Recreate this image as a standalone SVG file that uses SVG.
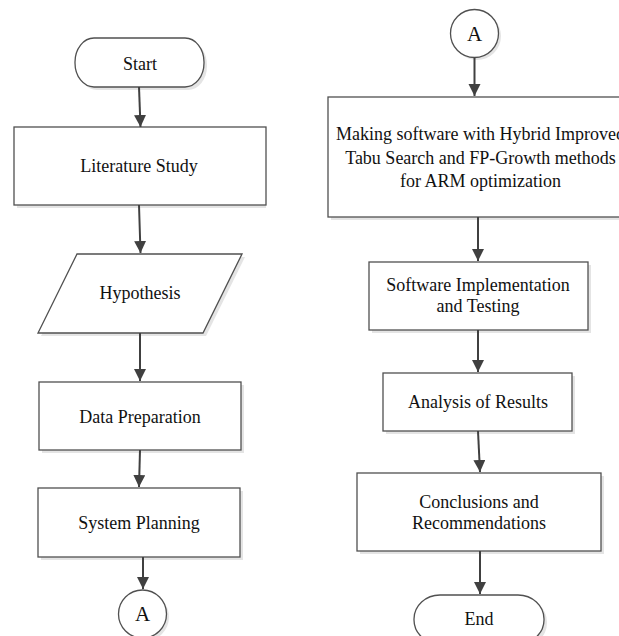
<svg xmlns="http://www.w3.org/2000/svg" width="619" height="636" viewBox="0 0 619 636">
<defs>
<marker id="ah" markerUnits="userSpaceOnUse" markerWidth="12" markerHeight="14" viewBox="0 0 12 14" refX="12" refY="6" orient="auto">
<path d="M0,0 L12,6 L0,12 Z" fill="#404040"/>
</marker>
<style>
.box{fill:#fff;stroke:#505050;stroke-width:1.3}
.sh{fill:#e4e4e4;stroke:none}
.t{font-family:"Liberation Serif","Times New Roman",serif;font-size:18px;fill:#111;text-anchor:middle}
.ta{font-family:"Liberation Serif","Times New Roman",serif;font-size:21px;fill:#111;text-anchor:middle}
.c{stroke:#404040;stroke-width:2;fill:none;marker-end:url(#ah)}
</style>
</defs>
<rect width="619" height="636" fill="#fff"/>

<g id="start">
<rect class="sh" x="78" y="41" width="129" height="49" rx="19" ry="24"/>
<rect class="box" x="75" y="38" width="129" height="49" rx="19" ry="24"/>
<text class="t" x="140" y="70">Start</text>
</g>

<g id="literature">
<rect class="sh" x="17" y="130" width="249" height="78"/>
<rect class="box" x="14" y="127" width="252" height="78"/>
<text class="t" x="139" y="172">Literature Study</text>
</g>

<g id="hypothesis">
<polygon class="sh" points="80,257 245,257 206,336 41,336"/>
<polygon class="box" points="77,254 242,254 203,333 38,333"/>
<text class="t" x="140" y="299">Hypothesis</text>
</g>

<g id="dataprep">
<rect class="sh" x="42" y="385" width="202" height="68"/>
<rect class="box" x="39" y="382" width="202" height="68"/>
<text class="t" x="140" y="423">Data Preparation</text>
</g>

<g id="sysplan">
<rect class="sh" x="41" y="491" width="202" height="69"/>
<rect class="box" x="38" y="488" width="202" height="69"/>
<text class="t" x="139" y="529">System Planning</text>
</g>

<g id="connA1">
<circle class="sh" cx="145" cy="617" r="24"/>
<circle class="box" cx="142.5" cy="614" r="24"/>
<text class="ta" x="142.5" y="621">A</text>
</g>

<g id="connA2">
<circle class="sh" cx="477" cy="36" r="24"/>
<circle class="box" cx="474.5" cy="33.5" r="24"/>
<text class="ta" x="474.5" y="41">A</text>
</g>

<g id="making">
<rect class="sh" x="331" y="100" width="305" height="120"/>
<rect class="box" x="328" y="97" width="305" height="120"/>
<text class="t" x="480.5" y="140">Making software with Hybrid Improved</text>
<text class="t" x="480.5" y="164">Tabu Search and FP-Growth methods</text>
<text class="t" x="480.5" y="187">for ARM optimization</text>
</g>

<g id="implementation">
<rect class="sh" x="372" y="265" width="219" height="68"/>
<rect class="box" x="369" y="262" width="219" height="68"/>
<text class="t" x="478" y="291">Software Implementation</text>
<text class="t" x="478" y="312">and Testing</text>
</g>

<g id="analysis">
<rect class="sh" x="386" y="376" width="189" height="58"/>
<rect class="box" x="383" y="373" width="189" height="58"/>
<text class="t" x="478" y="408">Analysis of Results</text>
</g>

<g id="conclusions">
<rect class="sh" x="360" y="476" width="244" height="78"/>
<rect class="box" x="357" y="473" width="244" height="78"/>
<text class="t" x="479" y="508">Conclusions and</text>
<text class="t" x="479" y="529">Recommendations</text>
</g>

<g id="end">
<rect class="sh" x="417" y="598" width="130" height="49" rx="26" ry="24"/>
<rect class="box" x="414" y="595" width="130" height="49" rx="26" ry="24"/>
<text class="t" x="479" y="625">End</text>
</g>

<g id="connectors">
<line class="c" x1="139" y1="87" x2="140.5" y2="127"/>
<line class="c" x1="139" y1="205" x2="140.5" y2="253"/>
<line class="c" x1="140" y1="333" x2="140" y2="381"/>
<line class="c" x1="140" y1="450" x2="139" y2="487"/>
<line class="c" x1="143" y1="557" x2="143" y2="589"/>
<line class="c" x1="474.5" y1="57.5" x2="474.5" y2="96"/>
<line class="c" x1="478" y1="217" x2="478" y2="261"/>
<line class="c" x1="478" y1="330" x2="478" y2="372"/>
<line class="c" x1="478" y1="431" x2="480" y2="472"/>
<line class="c" x1="480" y1="551" x2="480" y2="594"/>
</g>
</svg>
